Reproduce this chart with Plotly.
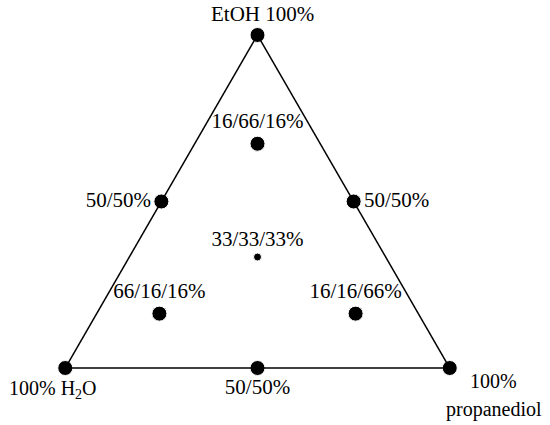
import plotly.graph_objects as go

# mixture compositions (EtOH, H2O, propanediol) in %
etoh = [100, 0, 0, 50, 50, 0, 66, 33, 16, 16]
water = [0, 100, 0, 50, 0, 50, 16, 33, 66, 16]
propanediol = [0, 0, 100, 0, 50, 50, 16, 33, 16, 66]
labels = ["", "", "", "50/50%", "50/50%", "50/50%",
          "16/66/16%", "33/33/33%", "66/16/16%", "16/16/66%"]
label_pos = ["top center", "top center", "top center", "middle left", "middle right",
             "bottom center", "top center", "top center", "top center", "top center"]
sizes = [15, 15, 15, 15, 15, 15, 15, 8, 15, 15]

FONT = "Liberation Serif, Times New Roman, serif"

fig = go.Figure()
fig.add_trace(go.Scatterternary(
    a=etoh, b=water, c=propanediol,
    mode="markers+text",
    text=labels,
    textposition=label_pos,
    textfont=dict(family=FONT, size=21, color="black"),
    marker=dict(color="black", size=sizes, opacity=1),
    cliponaxis=False,
    hoverinfo="skip",
))

axis = dict(showgrid=False, showticklabels=False, ticks="", linecolor="black",
            linewidth=1.5, title=dict(text=""))


def note(text, x, y, size=21):
    return dict(text=text, x=x, y=y, xref="paper", yref="paper", xanchor="center",
                yanchor="middle", showarrow=False, font=dict(size=size))


fig.update_layout(
    width=550, height=425,
    margin=dict(l=65, r=100, t=35, b=57, autoexpand=False),
    paper_bgcolor="white",
    showlegend=False,
    font=dict(family=FONT, size=21, color="black"),
    ternary=dict(sum=100, bgcolor="white", aaxis=axis, baxis=axis, caxis=axis),
    annotations=[
        note("EtOH 100%", 0.514, 1.063),
        note("100% H<sub>2</sub>O", -0.031, -0.066, 20),
        note("100%", 1.114, -0.039, 20),
        note("propanediol", 1.114, -0.126, 20),
    ],
)

# drop the page's default body margin so the figure sits at the window's corner
fig.write_html("out.html", config={"displayModeBar": False},
               post_script="document.body.style.margin = '0';")
